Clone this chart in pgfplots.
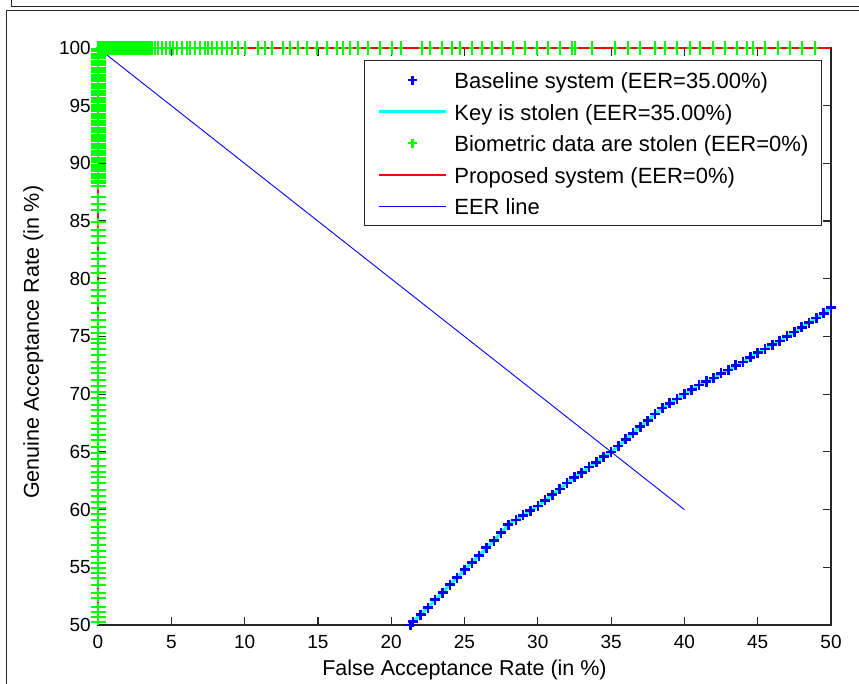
\documentclass[border=0pt]{standalone}
\usepackage{fontspec}
\setmainfont{Liberation Sans}
\usepackage{pgfplots}
\pgfplotsset{compat=1.18}
\usepackage{pgfplotstable}

\pgfplotstableread{
x y
21.3 50.0
21.5 50.3
22.0 50.9
22.5 51.5
23.0 52.2
23.5 52.8
24.0 53.5
24.5 54.1
25.0 54.8
25.5 55.4
26.0 56.0
26.5 56.7
27.0 57.3
27.5 58.0
28.0 58.7
28.5 59.1
29.0 59.5
29.5 59.9
30.0 60.3
30.5 60.8
31.0 61.3
31.5 61.8
32.0 62.3
32.5 62.8
33.0 63.2
33.5 63.7
34.0 64.1
34.5 64.6
35.0 65.0
35.5 65.5
36.0 66.1
36.5 66.6
37.0 67.2
37.5 67.7
38.0 68.3
38.5 68.8
39.0 69.2
39.5 69.6
40.0 70.0
40.5 70.4
41.0 70.8
41.5 71.1
42.0 71.4
42.5 71.8
43.0 72.1
43.5 72.5
44.0 72.8
44.5 73.2
45.0 73.6
45.5 73.9
46.0 74.3
46.5 74.6
47.0 75.0
47.5 75.4
48.0 75.8
48.5 76.2
49.0 76.6
49.5 77.0
50.0 77.5
}\tblbase

% biometric data stolen: points along the top (GAR = 100)
\pgfplotstableread{
x y
0.0 100
0.1 100
0.2 100
0.3 100
0.4 100
0.5 100
0.6 100
0.7 100
0.8 100
0.9 100
1.0 100
1.1 100
1.2 100
1.3 100
1.4 100
1.5 100
1.6 100
1.7 100
1.8 100
1.9 100
2.0 100
2.1 100
2.2 100
2.3 100
2.4 100
2.5 100
2.6 100
2.7 100
2.8 100
2.9 100
3.0 100
3.1 100
3.2 100
3.3 100
3.4 100
3.5 100
3.6 100
3.7 100
3.89 100
4.11 100
4.35 100
4.64 100
4.91 100
5.14 100
5.41 100
5.71 100
6.05 100
6.28 100
6.62 100
6.96 100
7.30 100
7.52 100
7.76 100
8.10 100
8.44 100
8.78 100
9.12 100
9.57 100
10.03 100
10.93 100
11.39 100
11.85 100
12.64 100
13.10 100
13.66 100
14.24 100
14.92 100
15.60 100
16.28 100
16.73 100
17.19 100
17.76 100
18.44 100
19.24 100
20.03 100
20.65 100
22.08 100
22.65 100
23.44 100
24.13 100
24.69 100
25.49 100
26.17 100
26.86 100
27.54 100
28.33 100
29.13 100
29.92 100
30.72 100
31.51 100
32.31 100
32.54 100
33.68 100
35.27 100
36.18 100
36.97 100
38.00 100
38.68 100
39.47 100
40.38 100
41.06 100
41.97 100
42.77 100
43.57 100
44.25 100
44.70 100
45.50 100
46.41 100
47.20 100
48.00 100
48.91 100
}\tblbiotop

% biometric data stolen: points along the left (FAR = 0)
\pgfplotstableread{
x y
0 50.3
0 50.7
0 51.1
0 51.6
0 52.3
0 52.8
0 53.5
0 54.1
0 54.5
0 54.9
0 55.4
0 55.9
0 56.4
0 56.9
0 57.5
0 58.0
0 58.5
0 59.1
0 59.6
0 60.1
0 60.7
0 61.2
0 61.7
0 62.3
0 62.8
0 63.3
0 63.8
0 64.4
0 64.9
0 65.4
0 66.0
0 66.5
0 67.0
0 67.5
0 68.1
0 68.6
0 69.1
0 69.7
0 70.2
0 70.7
0 71.2
0 71.8
0 72.3
0 72.8
0 73.4
0 73.9
0 74.4
0 74.8
0 75.3
0 75.8
0 76.4
0 77.0
0 77.9
0 78.5
0 79.0
0 79.6
0 80.5
0 81.1
0 81.7
0 82.2
0 83.1
0 83.7
0 84.2
0 84.9
0 86.0
0 86.5
0 87.1
0 88.0
0 88.3
0 88.5
0 88.7
0 88.9
0 89.1
0 89.3
0 89.5
0 89.7
0 89.9
0 90.1
0 90.3
0 90.5
0 90.7
0 90.9
0 91.1
0 91.3
0 91.5
0 91.7
0 91.9
0 92.1
0 92.3
0 92.5
0 92.7
0 92.9
0 93.1
0 93.3
0 93.5
0 93.7
0 93.9
0 94.1
0 94.3
0 94.5
0 94.7
0 94.9
0 95.1
0 95.3
0 95.5
0 95.7
0 95.9
0 96.1
0 96.3
0 96.5
0 96.7
0 96.9
0 97.1
0 97.3
0 97.5
0 97.7
0 97.9
0 98.1
0 98.3
0 98.5
0 98.7
0 98.9
0 99.1
0 99.3
0 99.5
0 99.7
0 99.9
}\tblbioleft

\pgfplotsset{
  lineleg/.style={legend image code/.code={\draw[##1] (0pt,0pt) -- (67pt,0pt);}},
  markleg/.style={legend image code/.code={\path[draw=none,fill=none] (0pt,0pt) -- (67pt,0pt); \draw[##1] plot coordinates {(33.5pt,0pt)};}},
}

\definecolor{mgreen}{rgb}{0,1,0}
\definecolor{mblue}{rgb}{0,0,1}
\definecolor{mdblue}{rgb}{0,0,0.92}
\definecolor{mcyan}{rgb}{0,1,1}
\definecolor{mred}{rgb}{1,0,0}

\begin{document}
\begin{tikzpicture}[x=1pt,y=1pt]
\useasboundingbox (0,0) rectangle (859,684);
\draw[line width=1pt, black!85] (11,694) -- (11,677) -- (870,677);
\draw[line width=1pt, black!85] (870,673) -- (6,673) -- (6,-10);
\begin{axis}[
  at={(98pt,59pt)}, anchor=south west,
  scale only axis, width=733pt, height=577pt,
  xmin=0, xmax=50, ymin=50, ymax=100,
  xtick={0,5,...,50}, ytick={50,55,...,100},
  tick align=inside, major tick length=8pt,
  axis line style={line width=1.2pt, black!85},
  every tick/.style={line width=1.2pt, black!85},
  clip=false,
  /pgf/number format/assume math mode=true,
  ticklabel style={font=\fontsize{19}{22}\selectfont},
  xticklabel style={inner sep=0pt, yshift=-10pt},
  yticklabel style={inner sep=0pt, xshift=-7pt},
  xlabel={False Acceptance Rate (in \%)},
  ylabel={Genuine Acceptance Rate (in \%)},
  label style={font=\fontsize{21.5}{24}\selectfont},
  xlabel style={at={(axis description cs:0.5,-0.0884)}, anchor=base},
  ylabel style={at={(axis description cs:-0.0805,0.49)}, anchor=base},
  legend cell align=left,
  legend style={at={(rel axis cs:0.9877,0.979)}, anchor=north east,
    draw=black!85, line width=1.2pt, fill=white,
    inner xsep=13pt, inner ysep=11pt, row sep=14.5pt, column sep=7pt,
    font=\fontsize{22}{24}\selectfont,
    nodes={inner sep=0pt, text height=17pt, text depth=0pt}},
]
\addlegendimage{markleg, only marks, mark=+, mdblue, mark size=4.5pt, line width=2.5pt}
\addlegendentry{Baseline system (EER=35.00\%)}
\addlegendimage{lineleg, mcyan, line width=3pt}
\addlegendentry{Key is stolen (EER=35.00\%)}
\addlegendimage{markleg, only marks, mark=+, mgreen, mark size=4.5pt, line width=2.5pt}
\addlegendentry{Biometric data are stolen (EER=0\%)}
\addlegendimage{lineleg, mred, line width=2pt}
\addlegendentry{Proposed system (EER=0\%)}
\addlegendimage{lineleg, mblue, line width=0.9pt}
\addlegendentry{EER line}

\addplot[forget plot, only marks, mark=+, mdblue, mark size=5pt, line width=2.6pt] table {\tblbase};
\addplot[forget plot, mcyan, line width=3pt] table {\tblbase};
\addplot[forget plot, only marks, mark=+, mgreen, mark size=5pt, line width=2pt, mark options={xscale=0.5, yscale=1.4}] table {\tblbiotop};
\addplot[forget plot, only marks, mark=+, mgreen, mark size=5pt, line width=2pt, mark options={xscale=1.5, yscale=0.75}] table {\tblbioleft};
\addplot[forget plot, mred, line width=2pt] coordinates {(0,50) (0,100) (50,100)};
\addplot[forget plot, mblue, line width=0.9pt] coordinates {(0,100) (40,60)};
\end{axis}
\end{tikzpicture}
\end{document}
